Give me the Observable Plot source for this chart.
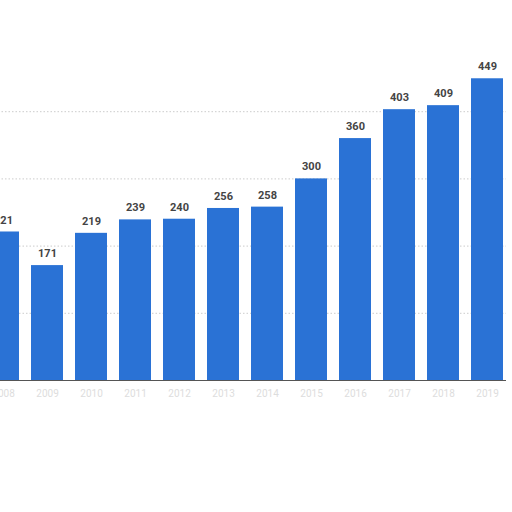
<!DOCTYPE html>
<html><head><meta charset="utf-8">
<script src="https://cdn.jsdelivr.net/npm/d3@7"></script>
<script src="https://cdn.jsdelivr.net/npm/@observablehq/plot@0.6"></script>
<style>
html,body{margin:0;padding:0;background:#fff;overflow:hidden;}
#chart svg{margin-left:-16px;display:block;max-width:none !important;}
</style></head>
<body><div id="chart"></div>
<script>
const years = ["2008","2009","2010","2011","2012","2013","2014","2015","2016","2017","2018","2019"];
const values = [221,171,219,239,240,256,258,300,360,403,409,449];
const yTicks = [0,100,200,300,400];

const data = years.map((y,i)=>({year:y, value:values[i]}));
const plot = Plot.plot({
  width: 522, height: 420,
  marginLeft: 0, marginRight: 0, marginTop: 44, marginBottom: 40,
  style: {fontFamily: "Roboto, 'Open Sans', sans-serif", background: "#fff", maxWidth: "none"},
  x: {domain: years, paddingInner: 0.28, paddingOuter: 0, axis: null},
  y: {domain: [0,500], axis: null},
  marks: [
    Plot.ruleY(yTicks.slice(1), {stroke: "#ccc", strokeDasharray: "1.5,2"}),
    Plot.barY(data, {x: "year", y: "value", fill: "#2a72d5"}),
    Plot.ruleY([0], {stroke: "#555", strokeWidth: 1.2}),
    Plot.text(data, {x: "year", y: "value", text: d => String(d.value), dy: -12, fill: "#444", fontWeight: "bold", fontSize: 11}),
    Plot.text(data, {x: "year", y: 0, text: "year", dy: 13, fill: "#ddd", fontSize: 10})
  ]
});
document.getElementById("chart").appendChild(plot);
</script></body></html>
